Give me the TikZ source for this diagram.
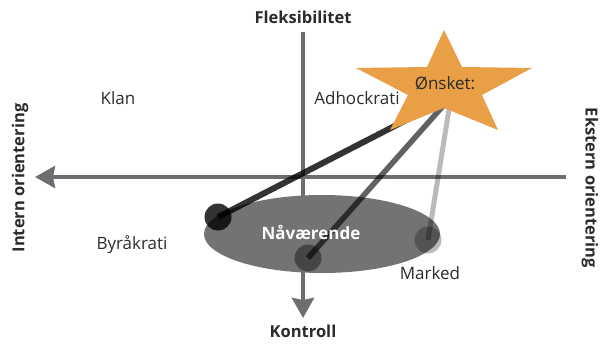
\documentclass[tikz,border=0pt]{standalone}
\usepackage{fontspec}
\setmainfont{Open Sans}
\usetikzlibrary{arrows.meta,shapes.geometric}
\definecolor{axisgray}{HTML}{6D6E71}
\definecolor{ellgray}{HTML}{737373}
\definecolor{starorange}{HTML}{E89F45}
\definecolor{txt}{HTML}{2B2B2B}
\tikzset{
  axis/.style={draw=axisgray, line width=4pt, -{Stealth[length=20pt,width=22pt,inset=2pt]}, {Stealth[length=20pt,width=22pt,inset=2pt]}-},
  lbl/.style={font=\fontsize{17}{20}\selectfont, text=txt, inner sep=0pt},
  blbl/.style={font=\fontsize{16.5}{19}\selectfont\bfseries, text=txt, inner sep=0pt},
  link/.style={line width=5.5pt, draw=black},
  dot/.style={circle, minimum size=27pt, inner sep=0pt},
}
\begin{document}
\begin{tikzpicture}[x=1pt,y=-1pt]
\useasboundingbox (0,0) rectangle (606,345);
% axes
\coordinate (vt) at (303,32);
\coordinate (vb) at (303,318);
\coordinate (hl) at (35,177);
\coordinate (hr) at (566,177);
\draw[axis] (vb) -- (vt);
\draw[axis] (hl) -- (hr);
% ellipse
\node[ellipse, fill=ellgray, minimum width=236pt, minimum height=78pt, inner sep=0pt] (ell) at (322,234) {};
% circles
\node[dot, fill=black, fill opacity=0.8] (c1) at (218,217) {};
\node[dot, fill=black!73] (c2) at (308,258) {};
\node[dot, fill=black, fill opacity=0.27] (c3) at (428,240) {};
% links
\coordinate (w) at (451,97);
\draw[link, draw opacity=0.8, line width=6pt] (c1.center) -- (w);
\draw[link, draw opacity=0.62] (c2.center) -- (w);
\draw[link, draw opacity=0.27, line width=5pt] (c3.center) -- (w);
\node[blbl, text=white, font=\fontsize{17}{20}\selectfont\bfseries] (nav) at (311,232) {Nåværende};
% star
\fill[starorange] (444,30) -- (462,67) -- (532,68) -- (482,95) -- (498,130) -- (444,108) -- (390,130) -- (408,95) -- (356,68) -- (427,67) -- cycle;
\node[lbl] (ons) at (445,83) {Ønsket:};
% labels
\node[lbl] (klan) at (118,98) {Klan};
\node[lbl] (adh) at (357,98) {Adhockrati};
\node[lbl] (byr) at (132,245) {Byråkrati};
\node[lbl] (mark) at (430,273) {Marked};
\node[blbl] (fl) at (303,17) {Fleksibilitet};
\node[blbl] (ko) at (303,331) {Kontroll};
\node[blbl, rotate=90] (io) at (20,178) {Intern orientering};
\node[blbl, rotate=-90] (eo) at (590,188) {Ekstern orientering};
\end{tikzpicture}
\end{document}
